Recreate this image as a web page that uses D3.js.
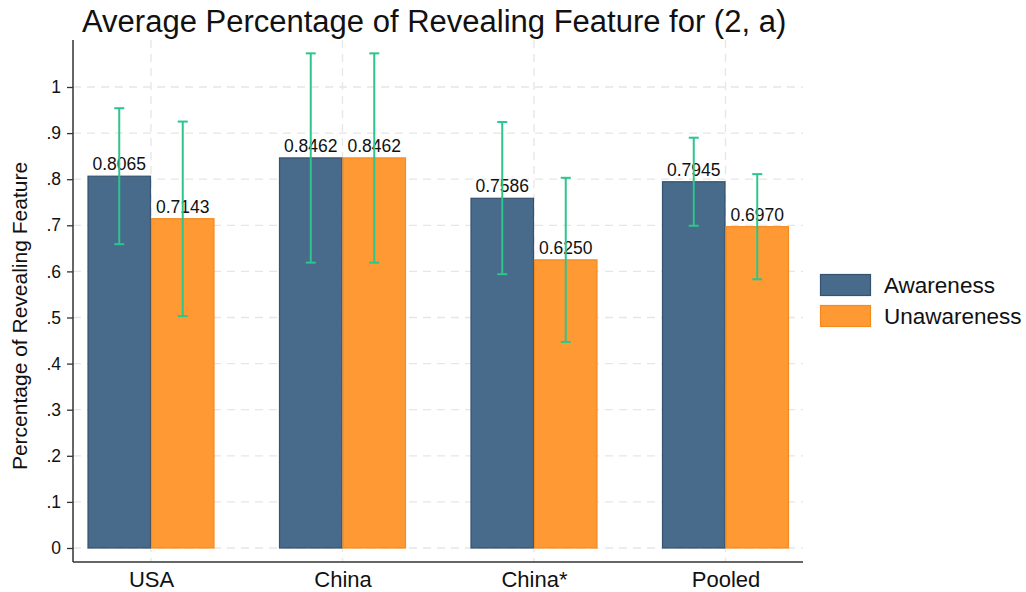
<!DOCTYPE html>
<html>
<head>
<meta charset="utf-8">
<script src="https://cdn.jsdelivr.net/npm/d3@7"></script>
<style>
  body { margin: 0; background: #fff; }
  svg { display: block; font-family: Arial, "Liberation Sans", sans-serif; }
</style>
</head>
<body>
<svg id="chart" width="1026" height="592"></svg>
<script>
// Data
const categories = ["USA", "China", "China*", "Pooled"];
const seriesNames = ["Awareness", "Unawareness"];
const awareness = [0.8065, 0.8462, 0.7586, 0.7945];
const unawareness = [0.7143, 0.8462, 0.6250, 0.6970];
const awarenessLow = [0.659, 0.619, 0.594, 0.699];
const awarenessHigh = [0.954, 1.073, 0.924, 0.890];
const unawarenessLow = [0.503, 0.619, 0.447, 0.583];
const unawarenessHigh = [0.925, 1.073, 0.803, 0.811];
const yTicks = [0, 0.1, 0.2, 0.3, 0.4, 0.5, 0.6, 0.7, 0.8, 0.9, 1];
const yTickLabels = ["0", ".1", ".2", ".3", ".4", ".5", ".6", ".7", ".8", ".9", "1"];

const colors = { Awareness: "#486a8b", Unawareness: "#fe9934" };
const strokes = { Awareness: "#35536f", Unawareness: "#f58a1f" };
const errColor = "#2cc68c";
const FONT = "Arial, 'Liberation Sans', sans-serif";

const rows = [];
categories.forEach((c, i) => {
  rows.push({ cat: c, series: "Awareness", value: awareness[i], lo: awarenessLow[i], hi: awarenessHigh[i] });
  rows.push({ cat: c, series: "Unawareness", value: unawareness[i], lo: unawarenessLow[i], hi: unawarenessHigh[i] });
});

const svg = d3.select("#chart");
const plot = { left: 73, right: 803, top: 40, bottom: 562 };

const y = d3.scaleLinear().domain([0, 1]).range([548, 87]);
const x = d3.scalePoint().domain(categories).range([151, 725.5]);
const xs = d3.scaleBand().domain(seriesNames).range([-63.5, 63.5]).padding(0);

// Grid
const grid = svg.append("g").attr("stroke", "#e6e6e6").attr("stroke-width", 1.3)
  .attr("stroke-dasharray", "8,6");
grid.selectAll("line.h").data(yTicks).join("line")
  .attr("x1", plot.left).attr("x2", plot.right)
  .attr("y1", d => y(d)).attr("y2", d => y(d));
grid.selectAll("line.v").data(categories).join("line")
  .attr("x1", d => x(d)).attr("x2", d => x(d))
  .attr("y1", plot.top).attr("y2", plot.bottom);

// Bars
svg.append("g").selectAll("rect").data(rows).join("rect")
  .attr("x", d => x(d.cat) + xs(d.series) + 0.5)
  .attr("width", xs.bandwidth() - 1)
  .attr("y", d => y(d.value))
  .attr("height", d => y(0) - y(d.value))
  .attr("fill", d => colors[d.series])
  .attr("stroke", d => strokes[d.series])
  .attr("stroke-width", 1.2);

// Value labels
svg.append("g").selectAll("text").data(rows).join("text")
  .attr("x", d => x(d.cat) + xs(d.series) + xs.bandwidth() / 2)
  .attr("y", d => y(d.value) - 6)
  .attr("text-anchor", "middle")
  .attr("font-size", 17.5)
  .attr("fill", "#111")
  .text(d => d.value.toFixed(4));

// Error bars
const eb = svg.append("g").attr("stroke", errColor).attr("stroke-width", 2);
rows.forEach(d => {
  const cx = x(d.cat) + xs(d.series) + xs.bandwidth() / 2;
  eb.append("line").attr("x1", cx).attr("x2", cx).attr("y1", y(d.lo)).attr("y2", y(d.hi));
  eb.append("line").attr("x1", cx - 5).attr("x2", cx + 5).attr("y1", y(d.lo)).attr("y2", y(d.lo));
  eb.append("line").attr("x1", cx - 5).attr("x2", cx + 5).attr("y1", y(d.hi)).attr("y2", y(d.hi));
});

// Y axis
const yAxis = d3.axisLeft(y).tickValues(yTicks)
  .tickFormat((d, i) => yTickLabels[i]).tickSize(6).tickPadding(6);
const gy = svg.append("g").attr("transform", `translate(${plot.left},0)`).call(yAxis)
  .attr("font-size", 17.5).attr("font-family", FONT);
gy.select(".domain").remove();
gy.selectAll(".tick line").attr("stroke", "#333").attr("stroke-width", 1.3);
gy.selectAll(".tick text").attr("fill", "#111");
svg.append("line").attr("x1", plot.left).attr("x2", plot.left)
  .attr("y1", plot.top).attr("y2", plot.bottom)
  .attr("stroke", "#333").attr("stroke-width", 1.5);

// X axis
const xAxis = d3.axisBottom(x).tickSize(0).tickPadding(9);
const gx = svg.append("g").attr("transform", `translate(0,${plot.bottom})`).call(xAxis)
  .attr("font-size", 22).attr("font-family", FONT);
gx.select(".domain").remove();
gx.selectAll(".tick text").attr("fill", "#111");
svg.append("line").attr("x1", plot.left).attr("x2", plot.right)
  .attr("y1", plot.bottom).attr("y2", plot.bottom)
  .attr("stroke", "#333").attr("stroke-width", 1.5);

// Titles
svg.append("text").attr("x", 82).attr("y", 32)
  .attr("font-size", 31).attr("fill", "#111")
  .text("Average Percentage of Revealing Feature for (2, a)");
svg.append("text")
  .attr("transform", `translate(27,316) rotate(-90)`)
  .attr("text-anchor", "middle").attr("font-size", 21).attr("fill", "#111")
  .text("Percentage of Revealing Feature");

// Legend
const lg = svg.append("g").attr("transform", "translate(820,274)");
seriesNames.forEach((s, i) => {
  lg.append("rect").attr("x", 0.5).attr("y", i * 31 + 0.5).attr("width", 50).attr("height", 21)
    .attr("fill", colors[s]).attr("stroke", strokes[s]).attr("stroke-width", 1.2);
  lg.append("text").attr("x", 64).attr("y", i * 31 + 19)
    .attr("font-size", 22.5).attr("fill", "#111").text(s);
});
</script>
</body>
</html>
